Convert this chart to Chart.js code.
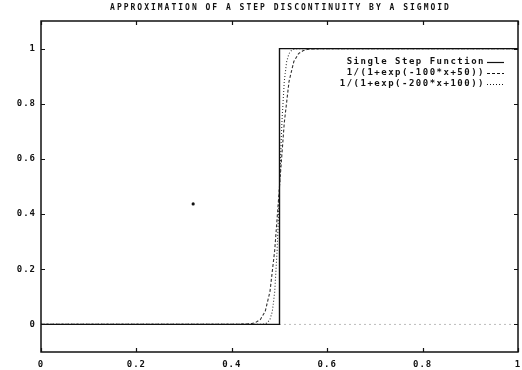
<!DOCTYPE html>
<html>
<head>
    <title>Step vs Sigmoid</title>
    <script src="https://cdn.jsdelivr.net/npm/chart.js"></script>
    <style>
        body {
            background-color: white;
            margin: 0;
            padding: 0;
        }
        #wrap {
            width: 522px;
            height: 370px;
        }
    </style>
</head>
<body>
    <div id="wrap">
        <canvas id="stepChart"></canvas>
    </div>

    <script>
    // values
    const titleText = 'APPROXIMATION OF A STEP DISCONTINUITY BY A SIGMOID';
    const xTicks = [0, 0.2, 0.4, 0.6, 0.8, 1];
    const yTicks = [0, 0.2, 0.4, 0.6, 0.8, 1];

    const stepX = [0, 0.5, 0.5, 1];
    const stepY = [0, 0, 1, 1];

    const sig100X = [0, 0.40, 0.44, 0.45, 0.46, 0.47, 0.48, 0.49, 0.50, 0.51, 0.52, 0.53, 0.54, 0.55, 0.56, 0.60, 1];
    const sig100Y = [0, 0, 0.002, 0.007, 0.018, 0.047, 0.119, 0.269, 0.5, 0.731, 0.881, 0.953, 0.982, 0.993, 0.998, 1, 1];

    const sig200X = [0, 0.46, 0.47, 0.475, 0.48, 0.485, 0.49, 0.495, 0.50, 0.505, 0.51, 0.515, 0.52, 0.525, 0.53, 0.54, 1];
    const sig200Y = [0, 0, 0.002, 0.007, 0.018, 0.047, 0.119, 0.269, 0.5, 0.731, 0.881, 0.953, 0.982, 0.993, 0.998, 1, 1];

    // faint dotted trace along zero right of the step (as printed)
    const zeroTraceX = [0.5, 1];
    const zeroTraceY = [0, 0];

    // little speck in the middle of the scan
    const speckX = [0.319];
    const speckY = [0.437];

    const legendLabels = ['Single Step Function', '1/(1+exp(-100*x+50))', '1/(1+exp(-200*x+100))'];

    const toPoints = (xs, ys) => xs.map((x, i) => ({ x: x, y: ys[i] }));
    const fmt = v => String(+v.toFixed(1));

    // title, frame, inward ticks and the boxed legend
    const framePlugin = {
        id: 'frame',
        beforeDraw(chart) {
            chart.ctx.letterSpacing = '1px';
        },
        afterDraw(chart) {
            const ctx = chart.ctx;
            const area = chart.chartArea;
            const xs = chart.scales.x;
            const ys = chart.scales.y;

            ctx.save();
            ctx.strokeStyle = '#111';
            ctx.lineWidth = 1.5;
            ctx.strokeRect(area.left, area.top, area.right - area.left, area.bottom - area.top);

            ctx.lineWidth = 1.2;
            ctx.beginPath();
            xTicks.forEach(v => {
                const px = Math.round(xs.getPixelForValue(v)) + 0.5;
                ctx.moveTo(px, area.bottom);
                ctx.lineTo(px, area.bottom - 4);
                ctx.moveTo(px, area.top);
                ctx.lineTo(px, area.top + 4);
            });
            yTicks.forEach(v => {
                const py = Math.round(ys.getPixelForValue(v)) + 0.5;
                ctx.moveTo(area.left, py);
                ctx.lineTo(area.left + 4, py);
                ctx.moveTo(area.right, py);
                ctx.lineTo(area.right - 4, py);
            });
            ctx.stroke();

            // title
            ctx.fillStyle = '#111';
            ctx.font = 'bold 8px "DejaVu Sans Mono"';
            ctx.letterSpacing = '2px';
            ctx.textAlign = 'center';
            ctx.textBaseline = 'middle';
            ctx.fillText(titleText, (area.left + area.right) / 2 + 1, 8);

            // legend
            ctx.font = 'bold 9px "DejaVu Sans Mono"';
            ctx.letterSpacing = '1.5px';
            ctx.textAlign = 'right';
            const rows = [62, 73, 84];
            const dashes = [[], [3, 2], [1, 2]];
            legendLabels.forEach((label, i) => {
                ctx.fillText(label, 485, rows[i]);
                ctx.setLineDash(dashes[i]);
                ctx.lineWidth = 1.2;
                ctx.beginPath();
                ctx.moveTo(487, rows[i] + 0.5);
                ctx.lineTo(504, rows[i] + 0.5);
                ctx.stroke();
            });
            ctx.restore();
        }
    };

    const ctx = document.getElementById('stepChart').getContext('2d');
    new Chart(ctx, {
        type: 'line',
        data: {
            datasets: [
                {
                    label: legendLabels[0],
                    data: toPoints(stepX, stepY),
                    borderColor: '#111',
                    borderWidth: 1.4,
                    pointRadius: 0,
                    tension: 0
                },
                {
                    label: legendLabels[1],
                    data: toPoints(sig100X, sig100Y),
                    borderColor: '#333',
                    borderWidth: 1.1,
                    borderDash: [3, 2],
                    pointRadius: 0,
                    tension: 0
                },
                {
                    label: legendLabels[2],
                    data: toPoints(sig200X, sig200Y),
                    borderColor: '#333',
                    borderWidth: 1.1,
                    borderDash: [1, 2],
                    pointRadius: 0,
                    tension: 0
                },
                {
                    label: 'trace',
                    data: toPoints(zeroTraceX, zeroTraceY),
                    borderColor: '#777',
                    borderWidth: 1,
                    borderDash: [1, 4],
                    pointRadius: 0
                },
                {
                    label: 'speck',
                    data: toPoints(speckX, speckY),
                    showLine: false,
                    pointRadius: 1.6,
                    pointBackgroundColor: '#111',
                    pointBorderWidth: 0
                }
            ]
        },
        options: {
            responsive: true,
            maintainAspectRatio: false,
            animation: false,
            layout: {
                padding: { left: 0, right: 3, top: 21, bottom: 0 }
            },
            plugins: {
                legend: { display: false },
                title: { display: false },
                tooltip: { enabled: false }
            },
            scales: {
                x: {
                    type: 'linear',
                    min: 0,
                    max: 1,
                    afterBuildTicks: scale => {
                        scale.ticks = xTicks.map(v => ({ value: v }));
                    },
                    afterFit: scale => {
                        scale.height = 18;
                        scale.paddingLeft = 0;
                        scale.paddingRight = 0;
                    },
                    grid: { display: false, drawTicks: false },
                    border: { display: false },
                    ticks: {
                        padding: 7,
                        maxRotation: 0,
                        autoSkip: false,
                        color: '#111',
                        callback: fmt,
                        font: { family: 'DejaVu Sans Mono', size: 9, weight: 'bold' }
                    }
                },
                y: {
                    type: 'linear',
                    min: -0.1,
                    max: 1.1,
                    afterBuildTicks: scale => {
                        scale.ticks = yTicks.map(v => ({ value: v }));
                    },
                    afterFit: scale => {
                        scale.width = 41;
                        scale.paddingTop = 0;
                        scale.paddingBottom = 0;
                    },
                    grid: { display: false, drawTicks: false },
                    border: { display: false },
                    ticks: {
                        padding: 5,
                        color: '#111',
                        callback: fmt,
                        font: { family: 'DejaVu Sans Mono', size: 9, weight: 'bold' }
                    }
                }
            }
        },
        plugins: [framePlugin]
    });
    </script>
</body>
</html>
